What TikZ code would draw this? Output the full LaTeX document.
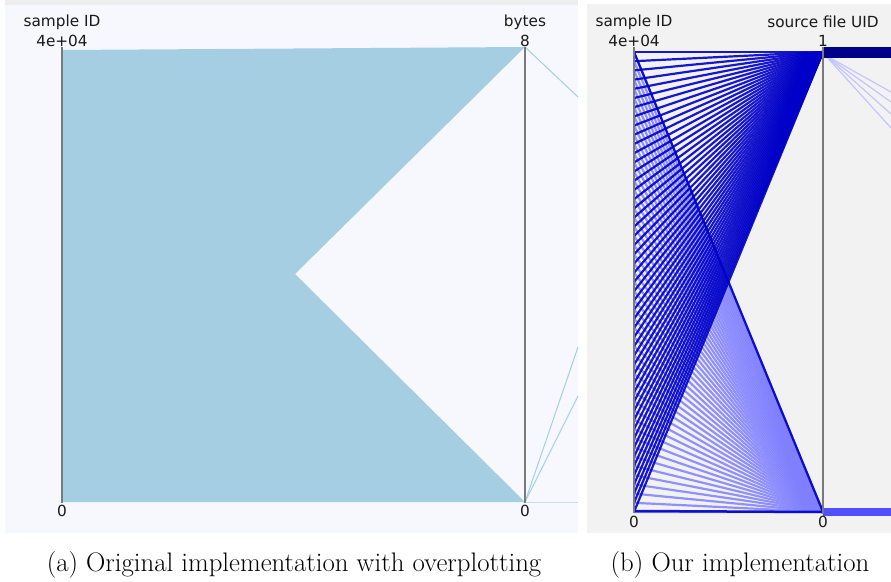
\documentclass[tikz,border=0pt]{standalone}
\usepackage{fontspec}
\newfontfamily\axfont{DejaVu Sans}
\definecolor{leftbg}{HTML}{F7F8FD}
\definecolor{stripbg}{HTML}{EEEEEE}
\definecolor{rightbg}{HTML}{F2F2F2}
\definecolor{pcfill}{HTML}{A6CEE3}
\definecolor{axisgray}{HTML}{7A7A7A}
\definecolor{darkblue}{HTML}{0000C8}
\definecolor{lightblue}{HTML}{8080FF}
\definecolor{navyband}{HTML}{000088}
\definecolor{midband}{HTML}{5050FF}
\definecolor{paleline}{HTML}{C4C4FF}
\tikzset{
  axisline/.style={draw=axisgray,line width=2.5pt},
  axlabel/.style={font=\axfont\fontsize{15.3}{16}\selectfont,inner sep=0pt,text=black!90},
  caption/.style={font=\fontsize{26.8}{30}\selectfont,inner sep=0pt},
  darkline/.style={draw=darkblue,line width=2.2pt,opacity=0.9},
  lightline/.style={draw=lightblue,line width=2.2pt,opacity=0.85},
  thinblue/.style={draw=pcfill,line width=1pt},
}
\begin{document}
\begin{tikzpicture}[x=1pt,y=-1pt]
\useasboundingbox (0,0) rectangle (891,581);
% ---- panel (a)
\fill[stripbg] (5,0) rectangle (578,5);
\fill[leftbg] (5,5) rectangle (578,533);
\fill[pcfill] (62,50) -- (525,47) -- (295,274) -- (525,502) -- (62,502) -- cycle;
\coordinate (a8) at (525,47);
\coordinate (a0) at (525,502);
\coordinate (e1) at (578,97);
\coordinate (e2) at (578,347);
\coordinate (e3) at (578,396);
\coordinate (e4) at (578,502);
\draw[thinblue] (a8) -- (e1);
\draw[thinblue] (a0) -- (e2);
\draw[thinblue] (a0) -- (e3);
\draw[thinblue,opacity=0.6] (a0) -- (e4);
\draw[axisline] (62,47) -- (62,503);
\draw[axisline] (525,47) -- (525,503);
\node[axlabel] (la1) at (62,22) {sample ID};
\node[axlabel] (la2) at (62,41) {4e+04};
\node[axlabel] (la3) at (525,22) {bytes};
\node[axlabel] (la4) at (525,41) {8};
\node[axlabel] (la5) at (62,511) {0};
\node[axlabel] (la6) at (525,511) {0};
% ---- panel (b)
\fill[rightbg] (587,4) rectangle (891,533);
\coordinate (btop) at (823,52);
\coordinate (bbot) at (823,512);
\foreach \i in {0,...,50} {
  \draw[lightline] (634,52+\i*9.2) -- (bbot);
}
\foreach \i in {0,...,50} {
  \draw[darkline] (634,52+\i*9.2) -- (btop);
}
\draw[darkline] (634,52) -- (bbot);
\draw[darkline,line width=2.5pt] (634,511) -- (bbot);
\foreach \yy in {92,102,114,128} {
  \draw[paleline,line width=1.2pt] (825,55) -- (891,\yy);
}
\fill[navyband] (823,47) rectangle (891,58);
\fill[midband] (823,508) rectangle (891,516);
\draw[axisline] (634,47) -- (634,513);
\draw[axisline] (823,47) -- (823,513);
\node[axlabel] (lb1) at (634,22) {sample ID};
\node[axlabel] (lb2) at (634,41) {4e+04};
\node[axlabel] (lb3) at (823,22) {source file UID};
\node[axlabel] (lb4) at (823,41) {1};
\node[axlabel] (lb5) at (634,522) {0};
\node[axlabel] (lb6) at (823,522) {0};
% ---- captions
\node[caption] (capa) at (294,565) {(a) Original implementation with overplotting};
\node[caption] (capb) at (740,565) {(b) Our implementation};
\end{tikzpicture}
\end{document}
